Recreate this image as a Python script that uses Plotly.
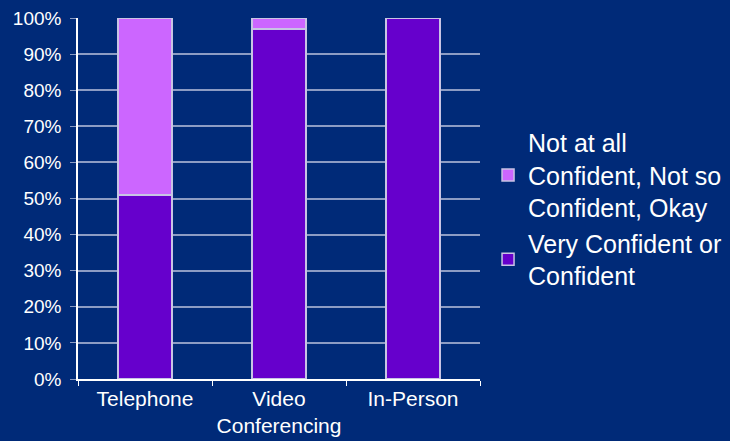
import plotly.graph_objects as go

categories = ["Telephone", "Video<br>Conferencing", "In-Person"]
very_confident = [0.51, 0.97, 1.00]
not_confident = [0.49, 0.03, 0.00]
series_names = ["Very Confident or<br>Confident", "Not at all<br>Confident, Not so<br>Confident, Okay"]

bg = "#002A78"
grid = "#8C9CC4"
edge = "#C8C4E4"
font_family = "Liberation Sans, Arial, sans-serif"

fig = go.Figure()
fig.add_trace(go.Bar(x=categories, y=very_confident, name=series_names[0],
                     marker=dict(color="#6600CC", line=dict(color=edge, width=1.5)),
                     width=0.4))
fig.add_trace(go.Bar(x=categories, y=not_confident, name=series_names[1],
                     marker=dict(color="#CC66FF", line=dict(color=edge, width=1.5)),
                     width=0.4))

fig.update_layout(
    width=730, height=441,
    barmode="stack",
    paper_bgcolor=bg, plot_bgcolor=bg,
    margin=dict(l=78, r=250, t=18, b=62, autoexpand=False),
    font=dict(family=font_family, color="white"),
    showlegend=True,
    legend=dict(traceorder="reversed", x=1.02, xanchor="left", y=0.47, yanchor="middle",
                font=dict(size=25, color="white"), bgcolor="rgba(0,0,0,0)",
                itemwidth=30),
    hovermode=False,
)
fig.update_yaxes(range=[0, 1], dtick=0.1, tickformat=".0%", showgrid=True,
                 gridcolor=grid, gridwidth=1.5, showline=True, linecolor="white",
                 linewidth=1.5, ticks="outside", ticklen=6, tickcolor=grid,
                 ticklabelstandoff=5, automargin=False,
                 tickfont=dict(size=19, color="white"), zeroline=False)
fig.update_xaxes(showline=True, linecolor="white", linewidth=1.5, ticks="outside",
                 tickson="boundaries", ticklen=5, tickcolor="white", tickangle=0,
                 ticklabelstandoff=0, automargin=False,
                 tickfont=dict(size=21, color="white"))

fig.write_html("out.html")
